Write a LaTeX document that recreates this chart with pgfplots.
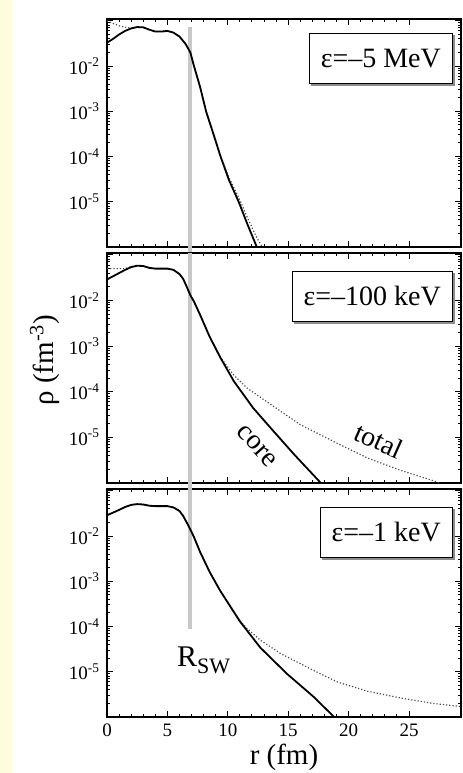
\documentclass[border=0pt]{standalone}
\usepackage{fontspec}
\setmainfont{Liberation Serif}
\usepackage{pgfplots}
\pgfplotsset{compat=1.18}
\definecolor{yellowbg}{HTML}{FFFCDD}
\definecolor{bandgray}{HTML}{C8C8C8}
\definecolor{shadowgray}{HTML}{8C8C8C}

\tikzset{
  corecurve/.style={black, line width=0.9pt},
  totalcurve/.style={black!70, line width=0.6pt, densely dotted},
  rswband/.style={bandgray, line width=2pt},
  ebox/.style={draw=black, line width=0.4pt, fill=white, anchor=north east,
    minimum height=25pt, inner xsep=5.8pt, font=\fontsize{14}{16}\selectfont},
  eshadow/.style={ebox, draw=shadowgray, fill=shadowgray, text=shadowgray, xshift=1.1pt, yshift=-1.1pt},
  curvelab/.style={font=\fontsize{14}{16}\selectfont},
}

\begin{document}
\begin{tikzpicture}
\useasboundingbox (0,0) rectangle (231pt,-386.5pt);
\fill[white] (0,0) rectangle (231pt,-386.5pt);
\fill[yellowbg] (0,0) rectangle (6pt,-386.5pt);

% top panel
\begin{axis}[
    ymode=log, ymin=1e-6, ymax=0.11, xmin=0, xmax=29.3,
    scale only axis, width=177pt, height=114pt,
    xtick={0,5,...,25}, minor x tick num=4, xticklabels={},
    ytick={1e-5,1e-4,1e-3,1e-2,1e-1},
    minor ytick={2e-6,3e-6,4e-6,5e-6,6e-6,7e-6,8e-6,9e-6,2e-5,3e-5,4e-5,5e-5,6e-5,7e-5,8e-5,9e-5,2e-4,3e-4,4e-4,5e-4,6e-4,7e-4,8e-4,9e-4,2e-3,3e-3,4e-3,5e-3,6e-3,7e-3,8e-3,9e-3,2e-2,3e-2,4e-2,5e-2,6e-2,7e-2,8e-2,9e-2},
    yticklabels={10\textsuperscript{-5},10\textsuperscript{-4},10\textsuperscript{-3},10\textsuperscript{-2},{}},
    tick align=inside, major tick length=3pt, minor tick length=1.5pt,
    tick style={black, line width=0.5pt},
    axis line style={line width=0.8pt},
    tick label style={font=\fontsize{9.5}{10}\selectfont},
    clip=false,
    at={(53.5pt,-123.5pt)}, anchor=south west]
\addplot[rswband, forget plot] coordinates {(6.9,7e-7) (6.9,0.075)};
\addplot[totalcurve] coordinates {(0,0.1) (0.5,0.088) (1,0.078) (1.5,0.072) (2,0.070) (2.5,0.073)
  (3,0.072) (3.5,0.064) (4,0.058) (4.5,0.058) (5,0.060) (5.5,0.055) (6,0.045) (6.5,0.031)
  (6.9,0.020) (7.2,0.010) (7.7,3.5e-3) (8.2,1e-3) (8.8,3.3e-4) (9.4,1.05e-4) (10.1,3.4e-5)
  (10.9,1.25e-5) (11.6,4.6e-6) (12.4,1.6e-6) (12.85,1e-6)};
\addplot[corecurve] coordinates {(0,0.033) (0.5,0.040) (1,0.050) (1.5,0.060) (2,0.068) (2.5,0.073)
  (3,0.072) (3.5,0.064) (4,0.058) (4.5,0.058) (5,0.060) (5.5,0.055) (6,0.045) (6.5,0.031)
  (6.9,0.020) (7.2,0.010) (7.7,3.5e-3) (8.2,1e-3) (8.8,3.2e-4) (9.4,1e-4) (10.1,3e-5)
  (10.9,1e-5) (11.6,3.3e-6) (12.4,1e-6)};
\node[eshadow] at (rel axis cs:0.977,0.939) {ε=–5 MeV};
\node[ebox] at (rel axis cs:0.977,0.939) {ε=–5 MeV};
\end{axis}

% middle panel
\begin{axis}[
    ymode=log, ymin=1e-6, ymax=0.11, xmin=0, xmax=29.3,
    scale only axis, width=177pt, height=115pt,
    xtick={0,5,...,25}, minor x tick num=4, xticklabels={},
    ytick={1e-5,1e-4,1e-3,1e-2,1e-1},
    minor ytick={2e-6,3e-6,4e-6,5e-6,6e-6,7e-6,8e-6,9e-6,2e-5,3e-5,4e-5,5e-5,6e-5,7e-5,8e-5,9e-5,2e-4,3e-4,4e-4,5e-4,6e-4,7e-4,8e-4,9e-4,2e-3,3e-3,4e-3,5e-3,6e-3,7e-3,8e-3,9e-3,2e-2,3e-2,4e-2,5e-2,6e-2,7e-2,8e-2,9e-2},
    yticklabels={10\textsuperscript{-5},10\textsuperscript{-4},10\textsuperscript{-3},10\textsuperscript{-2},{}},
    tick align=inside, major tick length=3pt, minor tick length=1.5pt,
    tick style={black, line width=0.5pt},
    axis line style={line width=0.8pt},
    tick label style={font=\fontsize{9.5}{10}\selectfont},
    ylabel={ρ (fm\textsuperscript{-3})},
    ylabel style={at={(rel axis cs:-0.175,0.535)}, anchor=center, font=\fontsize{14.5}{16}\selectfont},
    clip=false,
    at={(53.5pt,-241.5pt)}, anchor=south west]
\addplot[rswband, forget plot] coordinates {(6.9,1e-6) (6.9,0.11)};
\addplot[totalcurve] coordinates {(0,0.05) (1.5,0.05) (2,0.055) (2.5,0.058) (3,0.057) (3.5,0.052)
  (4,0.050) (4.5,0.050) (5,0.050) (5.5,0.047) (6,0.038) (6.3,0.030) (6.6,0.020) (6.9,0.013)
  (7.2,0.0095) (7.7,4.9e-3) (8.5,1.6e-3) (9.4,5.7e-4) (10.5,2.3e-4) (11.6,1.2e-4)
  (14.4,3.7e-5) (16.0,1.9e-5) (17.1,1.35e-5) (19.3,6.9e-6) (21.6,3.5e-6) (24.3,1.9e-6)
  (27.1,1.1e-6) (27.5,1e-6)};
\addplot[corecurve] coordinates {(0,0.029) (0.5,0.034) (1,0.040) (1.5,0.047) (2,0.054) (2.5,0.058)
  (3,0.057) (3.5,0.052) (4,0.050) (4.5,0.050) (5,0.050) (5.5,0.047) (6,0.038) (6.3,0.030)
  (6.6,0.020) (6.9,0.013) (7.2,0.0095) (7.7,4.9e-3) (8.5,1.6e-3) (9.4,5.5e-4) (10.5,1.7e-4)
  (12.1,4.4e-5) (13.8,1.35e-5) (15.5,4.2e-6) (17.7,1e-6)};
\node[eshadow] at (rel axis cs:0.977,0.922) {ε=–100 keV};
\node[ebox] at (rel axis cs:0.977,0.922) {ε=–100 keV};
\node[curvelab, rotate=-48] at (axis cs:12.4,6.4e-6) {core};
\node[curvelab, rotate=-24] at (axis cs:22.5,8.6e-6) {total};
\end{axis}

% bottom panel
\begin{axis}[
    ymode=log, ymin=1e-6, ymax=0.11, xmin=0, xmax=29.3,
    scale only axis, width=177pt, height=114pt,
    xtick={0,5,...,25}, minor x tick num=4,
    ytick={1e-5,1e-4,1e-3,1e-2,1e-1},
    minor ytick={2e-6,3e-6,4e-6,5e-6,6e-6,7e-6,8e-6,9e-6,2e-5,3e-5,4e-5,5e-5,6e-5,7e-5,8e-5,9e-5,2e-4,3e-4,4e-4,5e-4,6e-4,7e-4,8e-4,9e-4,2e-3,3e-3,4e-3,5e-3,6e-3,7e-3,8e-3,9e-3,2e-2,3e-2,4e-2,5e-2,6e-2,7e-2,8e-2,9e-2},
    yticklabels={10\textsuperscript{-5},10\textsuperscript{-4},10\textsuperscript{-3},10\textsuperscript{-2},{}},
    tick align=inside, major tick length=3pt, minor tick length=1.5pt,
    tick style={black, line width=0.5pt},
    axis line style={line width=0.8pt},
    tick label style={font=\fontsize{9.5}{10}\selectfont},
    xlabel={r (fm)},
    xlabel style={at={(rel axis cs:0.5,-0.175)}, anchor=center, font=\fontsize{14.5}{16}\selectfont},
    clip=false,
    at={(53.5pt,-358.5pt)}, anchor=south west,
    /pgf/number format/assume math mode=true]
\addplot[rswband, forget plot] coordinates {(6.9,9e-5) (6.9,0.15)};
\addplot[totalcurve] coordinates {(0,0.029) (0.5,0.033) (1,0.038) (1.5,0.044) (2,0.049) (2.5,0.051)
  (3,0.050) (3.5,0.047) (4,0.046) (4.5,0.046) (5,0.046) (5.5,0.043) (6,0.036) (6.3,0.028)
  (6.6,0.020) (6.9,0.014) (7.2,0.0095) (7.7,4.5e-3) (8.5,1.6e-3) (9.4,6e-4) (11.0,1.35e-4)
  (11.6,9e-5) (12.7,5e-5) (14.4,2.5e-5) (17.1,1.07e-5) (19.1,5.9e-6) (21.6,3.7e-6)
  (24.4,2.6e-6) (27,2.0e-6) (29.3,1.7e-6)};
\addplot[corecurve] coordinates {(0,0.029) (0.5,0.033) (1,0.038) (1.5,0.044) (2,0.049) (2.5,0.051)
  (3,0.050) (3.5,0.047) (4,0.046) (4.5,0.046) (5,0.046) (5.5,0.043) (6,0.036) (6.3,0.028)
  (6.6,0.020) (6.9,0.014) (7.2,0.0095) (7.7,4.5e-3) (8.5,1.6e-3) (9.4,6e-4) (11.0,1.3e-4)
  (12.7,3.4e-5) (14.9,9e-6) (17.1,2.8e-6) (18.8,1e-6)};
\node[eshadow] at (rel axis cs:0.977,0.921) {ε=–1 keV};
\node[ebox] at (rel axis cs:0.977,0.921) {ε=–1 keV};
\node[font=\fontsize{15}{17}\selectfont] at (axis cs:8.0,1.8e-5)
  {R\raisebox{-0.25em}{\fontsize{11}{12}\selectfont SW}};
\end{axis}
\end{tikzpicture}
\end{document}
